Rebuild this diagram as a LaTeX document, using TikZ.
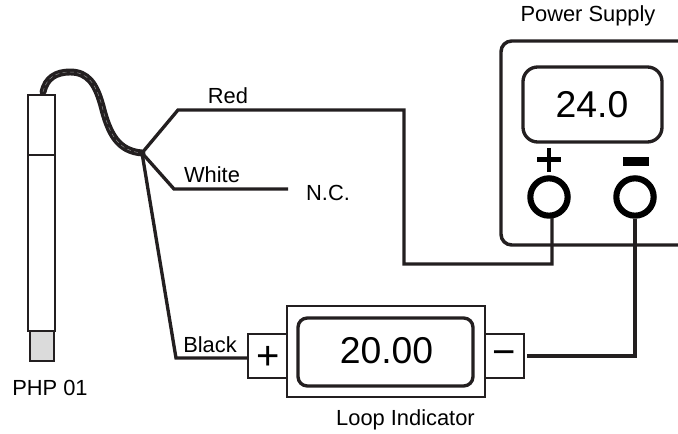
\documentclass[tikz,border=0pt]{standalone}
\usepackage{fontspec}
\setmainfont{Liberation Sans}
\definecolor{ink}{HTML}{231F20}
\tikzset{
  wire/.style={draw=ink,line width=2.5pt,line join=miter},
  thinbox/.style={draw=ink,line width=1.6pt},
  rbox/.style={draw=ink,line width=2.5pt,rounded corners=7pt},
  lbl/.style={text=black,font=\fontsize{16.4}{18}\selectfont,inner sep=0pt},
  big/.style={text=black,font=\fontsize{28}{32}\selectfont,inner sep=0pt},
  sign/.style={text=black,font=\fontsize{30}{32}\selectfont,inner sep=0pt},
  term/.style={circle,draw=black,line width=4.6pt,minimum size=28pt,inner sep=0pt},
  cablecore/.style={draw=ink,line width=5.2pt,line cap=round},
  cablestrand/.style={draw=black!45,line width=0.35pt,dash pattern=on 3pt off 2.5pt}
}
\begin{document}
\begin{tikzpicture}[x=0.75pt,y=-0.75pt]
\useasboundingbox (0,0) rectangle (678,434);
% probe
\draw[thinbox] (28,95) rectangle (55,331);
\draw[thinbox] (28,155) -- (55,155);
\draw[thinbox,fill=black!14] (30,331) rectangle (54,361);
% junction
\coordinate (j) at (142,153);
\coordinate (cablestart) at (43,92);
% cable
\foreach \s in {cablecore,cablestrand}{
\draw[\s] (cablestart) .. controls (46,78) and (56,72) .. (70,72)
  .. controls (88,72) and (96,84) .. (102,106)
  .. controls (109,134) and (118,151) .. (j);
}
% power supply
\draw[rbox,rounded corners=8pt,line width=2.6pt] (682,41) -- (501,41) -- (501,245) -- (682,245);
\draw[rbox,rounded corners=11pt] (523,67) rectangle (662,142);
\node[big] (psval) at (592,105) {24.0};
\node[term] (tplus) at (549,197) {};
\node[term] (tminus) at (635,197) {};
\draw[draw=black,line width=3.2pt] (549,148) -- (549,172) (537,159.5) -- (561,159.5);
\fill[black] (623,157) rectangle (649,166);
% loop indicator
\draw[thinbox] (248,334) rectangle (287,378);
\draw[thinbox] (485,334) rectangle (524,378);
\draw[thinbox] (287,306) rectangle (485,397);
\draw[rbox] (298,318) rectangle (473,386);
\node[big] (lival) at (386.5,351) {20.00};
\node[sign] (lplus) at (268.5,358) {+};
\node[sign] (lminus) at (504,358) {−};
% wires
\draw[wire] (j) -- (178,110) -- (404,110) -- (404,264) -- (552,264) -- (552,218);
\draw[wire] (j) -- (174,189) -- (288,189);
\draw[wire] (j) -- (176,358) -- (248,358);
\draw[wire] (tminus.south) -- (635,356) -- (527,356);
% labels
\node[lbl] (redl) at (228,96) {Red};
\node[lbl] (whitel) at (212,175) {White};
\node[lbl] (blackl) at (210,345) {Black};
\node[lbl] (nc) at (328,193) {N.C.};
\node[lbl] (pst) at (588,16) {Power Supply};
\node[lbl] (php) at (50,388) {PHP 01};
\node[lbl] (lit) at (405.5,420) {Loop Indicator};
\end{tikzpicture}
\end{document}
